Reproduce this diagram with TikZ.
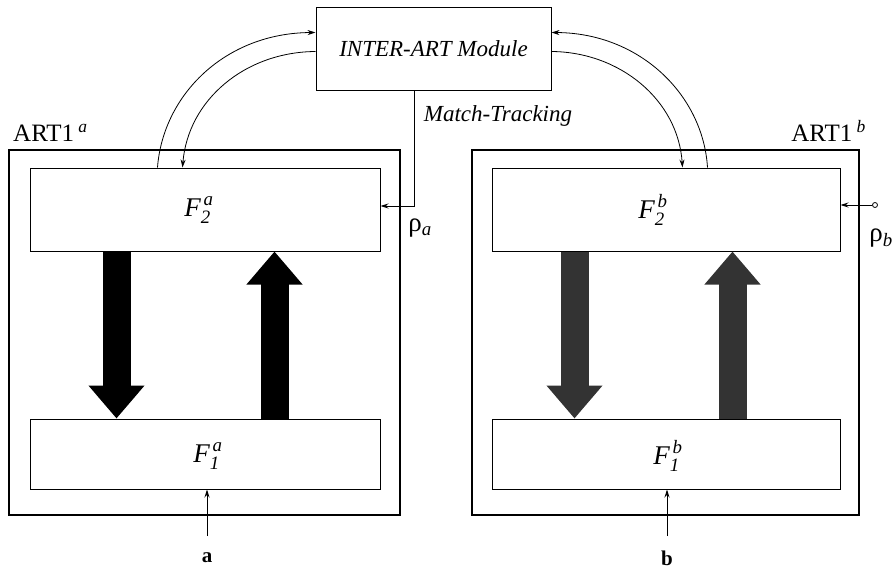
\documentclass[tikz,border=0pt]{standalone}
\usepackage{amsmath}
\usepackage{fontspec}
\setmainfont{Liberation Serif}
\usetikzlibrary{arrows.meta,calc}
\begin{document}
\begin{tikzpicture}[x=1pt,y=-1pt,
  outerbox/.style={draw, line width=1.4pt, inner sep=0pt},
  layerbox/.style={draw, line width=1pt, inner sep=0pt},
  modbox/.style={draw, line width=1pt, inner sep=0pt, minimum width=235pt, minimum height=83pt},
  thin/.style={line width=0.8pt},
  smallarrow/.style={thin, -{Stealth[length=8pt,width=5pt]}},
  bigdown/.style={line width=28pt, -{Triangle[length=33pt,width=54pt]}},
  lbl/.style={font=\fontsize{23}{26}\selectfont, inner sep=0pt},
  flbl/.style={font=\fontsize{27}{30}\selectfont, inner sep=0pt}
]
\useasboundingbox (0,0) rectangle (892,570);

% boxes
\node[outerbox, minimum width=391pt, minimum height=365pt] (A) at (204.5,332.5) {};
\node[outerbox, minimum width=387pt, minimum height=365pt] (B) at (665.5,332.5) {};
\node[layerbox, minimum width=350pt, minimum height=83pt] (F2a) at (205,209.5) {};
\node[layerbox, minimum width=350pt, minimum height=70pt] (F1a) at (205,454) {};
\node[layerbox, minimum width=348pt, minimum height=83pt] (F2b) at (666,209.5) {};
\node[layerbox, minimum width=348pt, minimum height=70pt] (F1b) at (666,454) {};
\node[modbox, lbl] (I) at (433.5,48.5) {\itshape INTER-ART Module};

% labels
\node[lbl, font=\fontsize{25}{28}\selectfont, anchor=south west] (tA) at (13,142) {ART1\,$^{\textit{a}}$};
\node[lbl, font=\fontsize{25}{28}\selectfont, anchor=south east] (tB) at (866,142) {ART1\,$^{\textit{b}}$};
\node[flbl] (lF2a) at (199,210) {$\textit{F}_{\textit{2}}^{\,\textit{a}}$};
\node[flbl] (lF1a) at (208,456) {$\textit{F}_{\textit{1}}^{\,\textit{a}}$};
\node[flbl] (lF2b) at (653,210) {$\textit{F}_{\textit{2}}^{\,\textit{b}}$};
\node[flbl] (lF1b) at (668,456) {$\textit{F}_{\textit{1}}^{\,\textit{b}}$};
\node[lbl] (mt) at (498,116) {\itshape Match-Tracking};
\node[flbl] (ra) at (420,228) {ρ\textsubscript{\textit{a}}};
\node[flbl] (rbl) at (881,238) {ρ\textsubscript{\textit{b}}};
\node[lbl, font=\fontsize{21}{24}\selectfont\bfseries] (la) at (207,558) {a};
\node[lbl, font=\fontsize{21}{24}\selectfont\bfseries] (lb) at (667,558) {b};

% thick arrows
\draw[bigdown] ($(F2a.south west)+(87,0)$) -- ($(F1a.north west)+(87,0)$);
\draw[bigdown] ($(F1a.north west)+(245,0)$) -- ($(F2a.south west)+(245,0)$);
\draw[bigdown, black!80] ($(F2b.south west)+(83,0)$) -- ($(F1b.north west)+(83,0)$);
\draw[bigdown, black!80] ($(F1b.north west)+(241,0)$) -- ($(F2b.south west)+(241,0)$);

% curves to/from INTER-ART
\draw[smallarrow] ($(F2a.north west)+(128,0)$) .. controls (163,95) and (225,33) .. ($(I.north west)+(0,26)$);
\draw[smallarrow] ($(I.north west)+(0,45)$) .. controls (245,52) and (188,100) .. ($(F2a.north west)+(153,0)$);
\draw[smallarrow] ($(F2b.north west)+(216,0)$) .. controls (703,95) and (640,33) .. ($(I.north east)+(0,26)$);
\draw[smallarrow] ($(I.north east)+(0,45)$) .. controls (620,52) and (678,100) .. ($(F2b.north west)+(191,0)$);

% match tracking
\coordinate (mtc) at (414,206);
\draw[smallarrow] (I.south -| mtc) -- (mtc) -- (mtc -| F2a.east);

% rho_b
\node[draw, circle, thin, inner sep=0pt, minimum size=5pt, fill=white] (rb) at (875,205) {};
\draw[smallarrow] (rb) -- (rb -| F2b.east);

% inputs
\coordinate (ina) at (207,536);
\coordinate (inb) at (667,536);
\draw[smallarrow] (ina) -- (ina |- F1a.south);
\draw[smallarrow] (inb) -- (inb |- F1b.south);
\end{tikzpicture}
\end{document}
